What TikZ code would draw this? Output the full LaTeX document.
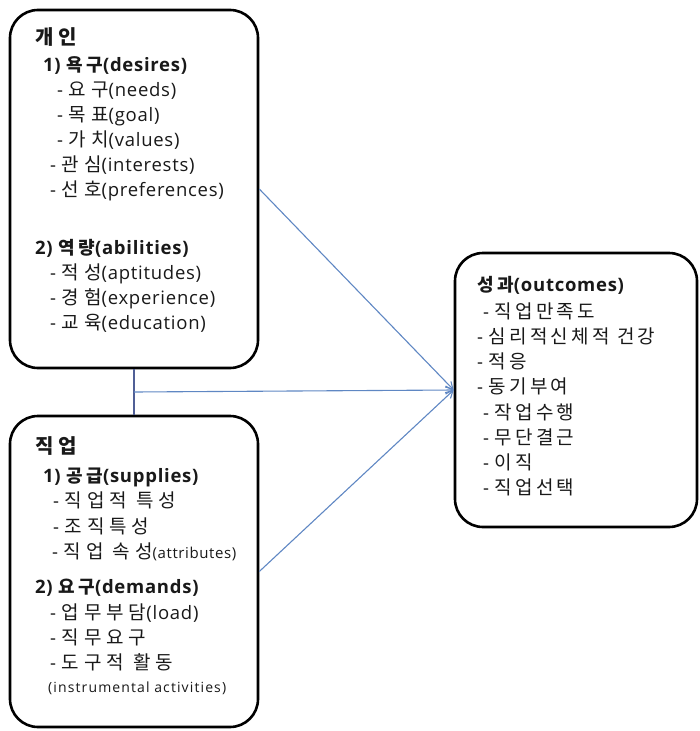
\documentclass[tikz,border=0pt]{standalone}
\usepackage{fontspec}
\setmainfont{Open Sans}[LetterSpace=4]
\newfontfamily\smfont{Open Sans}[LetterSpace=8]
\newfontfamily\krfont[LetterSpace=26]{Noto Sans CJK KR}
\newfontfamily\krofont[LetterSpace=17]{Noto Sans CJK KR}
\newfontfamily\krhfont[LetterSpace=20]{Noto Sans CJK KR}
\newfontfamily\krtfont[LetterSpace=25]{Noto Sans CJK KR}
\usetikzlibrary{arrows.meta,calc}
\newcommand\K[1]{{\fontsize{19}{21}\krfont #1}}
\newcommand\KO[1]{{\fontsize{19}{21}\krofont #1}}
\newcommand\KH[1]{{\fontsize{18}{20}\krhfont\bfseries #1}}
\newcommand\KT[1]{{\fontsize{20}{22}\krtfont\bfseries #1}}
\definecolor{txtc}{RGB}{25,25,25}
\definecolor{armc}{RGB}{95,135,195}
\definecolor{linc}{RGB}{80,95,150}
\tikzset{
  box/.style={draw=black, line width=2.6pt, rounded corners=28pt, fill=white},
  txt/.style={anchor=west, inner sep=0pt, text=txtc, font=\fontsize{18.5}{20}\selectfont, text height=13pt, text depth=1pt},
  hd/.style={txt, font=\fontsize{18.5}{20}\selectfont\bfseries},
  sm/.style={txt, font=\fontsize{14}{16}\smfont},
  arr/.style={draw=armc, line width=1.1pt, -{Straight Barb[length=7pt,width=8pt]}},
  lin/.style={draw=linc, line width=1.1pt}
}
\begin{document}
\begin{tikzpicture}[x=1pt,y=-1pt]
\useasboundingbox (0,0) rectangle (699,731);
% boxes
\node[box, minimum width=248pt, minimum height=358pt] (ind) at (134,189) {};
\node[box, minimum width=248pt, minimum height=311pt] (job) at (134,571.5) {};
\node[box, minimum width=242pt, minimum height=274pt] (out) at (576,390) {};
% connectors
\draw[lin] (ind.south) -- (job.north);
\coordinate (mid) at ($(ind.south)!0.5!(job.north)$);
\draw[arr] (mid) -- (out.west);
\draw[arr] (ind.east) -- (out.west);
\draw[arr] (job.east) -- (out.west);
% individual
\node[hd] (i0) at (35,38) {\KT{개인}};
\node[hd] (i1) at (43,65) {1) \KH{욕구}(desires)};
\node[txt] (i2) at (57,90) {- \K{요구}(needs)};
\node[txt] (i3) at (57,115) {- \K{목표}(goal)};
\node[txt] (i4) at (57,140) {- \K{가치}(values)};
\node[txt] (i5) at (50,165) {- \K{관심}(interests)};
\node[txt] (i6) at (50,190) {- \K{선호}(preferences)};
\node[hd] (i7) at (35,248) {2) \KH{역량}(abilities)};
\node[txt] (i8) at (50,273) {- \K{적성}(aptitudes)};
\node[txt] (i9) at (50,298) {- \K{경험}(experience)};
\node[txt] (i10) at (50,323) {- \K{교육}(education)};
% job
\node[hd] (j0) at (35,447) {\KT{직업}};
\node[hd] (j1) at (43,476) {1) \KH{공급}(supplies)};
\node[txt] (j2) at (53,501) {- \K{직업적 특성}};
\node[txt] (j3) at (53,527) {- \K{조직특성}};
\node[txt] (j4) at (52,552) {- \K{직업 속성}\fontsize{15}{17}\selectfont(attributes)};
\node[hd] (j5) at (35,587) {2) \KH{요구}(demands)};
\node[txt] (j6) at (50,613) {- \K{업무부담}(load)};
\node[txt] (j7) at (50,638) {- \K{직무요구}};
\node[txt] (j8) at (50,663) {- \K{도구적 활동}};
\node[sm] (j9) at (48,686) {(instrumental activities)};
% outcomes
\node[hd] (o0) at (477,285) {\KH{성과}(outcomes)};
\node[txt] (o1) at (483,312) {- \KO{직업만족도}};
\node[txt] (o2) at (477,337) {- \KO{심리적신체적 건강}};
\node[txt] (o3) at (477,362) {- \KO{적응}};
\node[txt] (o4) at (477,387) {- \KO{동기부여}};
\node[txt] (o5) at (483,413) {- \KO{작업수행}};
\node[txt] (o6) at (483,438) {- \KO{무단결근}};
\node[txt] (o7) at (483,463) {- \KO{이직}};
\node[txt] (o8) at (483,488) {- \KO{직업선택}};
\end{tikzpicture}
\end{document}
